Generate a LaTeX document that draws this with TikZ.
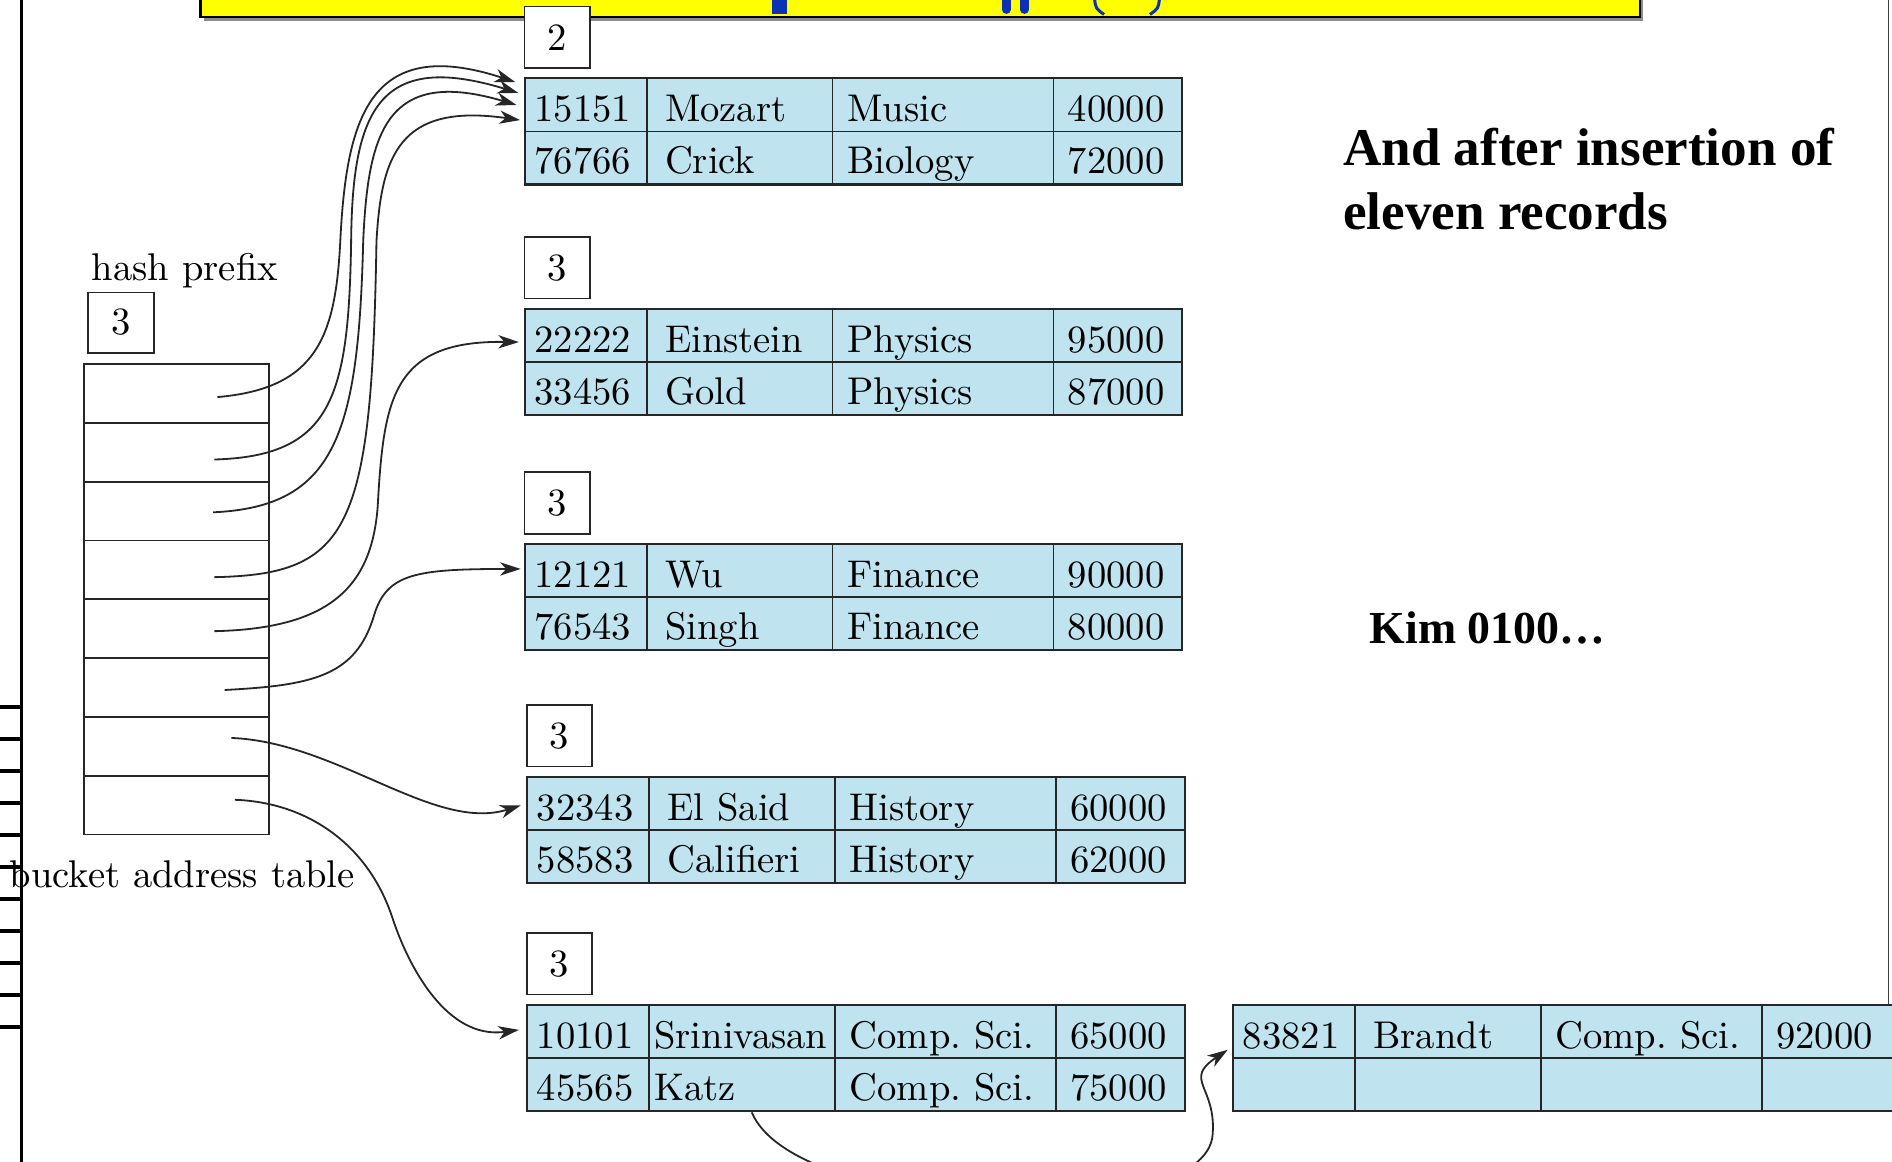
\documentclass[tikz,border=0pt]{standalone}
\usepackage{fontspec}
\newfontfamily\notefont{Liberation Serif}
\newfontfamily\figfont{lmroman10-regular}[Extension=.otf]
\usetikzlibrary{arrows.meta,positioning}
\definecolor{cellblue}{HTML}{BFE3EF}
\definecolor{slideyellow}{HTML}{FFFF00}
\definecolor{slideblue}{HTML}{0B32B5}
\newcommand{\tablefont}{\figfont\fontsize{32}{38}\selectfont}

% bucket frame: rules between the two records and the four fields
\newcommand{\bucket}[3][]{%
  \node[recbox,#1] (#2) at (#3) {};
  \draw[cellrule] (#2.west) -- (#2.east);
  \foreach \dx in {102,256,439}
    \draw[cellrule] ([xshift=\dx pt]#2.north west) -- ([xshift=\dx pt]#2.south west);
}
% one record: [name indent] bucket, baseline depth, ID, name, dept, salary
\newcommand{\record}[7][117]{%
  \node[field, anchor=base] (#2-#4) at ([xshift=49pt,yshift=-#3 pt]#2.north west) {#4};
  \node[field, anchor=base west] (#2-#4-n) at ([xshift=#1 pt,yshift=-#3 pt]#2.north west) {#5};
  \node[field, anchor=base west] (#2-#4-d) at ([xshift=268pt,yshift=-#3 pt]#2.north west) {#6};
  \node[field, anchor=base] (#2-#4-s) at ([xshift=491pt,yshift=-#3 pt]#2.north west) {#7};
}

\begin{document}
\begin{tikzpicture}[
    x=1pt, y=-1pt,
    >=Stealth,
    recbox/.style={draw=black!85, line width=1.8pt, fill=cellblue, anchor=north west,
                   minimum width=545pt, minimum height=88pt, inner sep=0pt},
    cellrule/.style={draw=black!85, line width=1.4pt},
    depthbox/.style={draw=black!85, line width=1.4pt, fill=white, minimum width=54pt,
                     minimum height=51pt, inner sep=0pt, font=\tablefont},
    slotbox/.style={draw=black!85, line width=1.4pt, anchor=north west,
                    minimum width=153pt, minimum height=48.75pt, inner sep=0pt},
    field/.style={font=\tablefont, inner sep=0pt},
    note/.style={font=\notefont\bfseries\fontsize{44}{53}\selectfont, inner sep=0pt, anchor=base west},
    ptr/.style={-{Stealth[length=17pt, width=11pt, inset=5pt]}, line width=1.5pt, black!85},
]
\useasboundingbox (0,0) rectangle (1568,963);
\clip (0,0) rectangle (1568,963);

% slide title bar, cut off at the top
\fill[black!45] (169,-20) rectangle (1362,17);
\filldraw[fill=slideyellow, draw=black, line width=2.2pt] (166,-20) rectangle (1359,14);
\fill[slideblue] (640,0) rectangle (652,12);
\draw[slideblue, line width=7pt, line cap=round] (834,-4) -- (834,8) (849,-4) -- (849,8);
\draw[slideblue, line width=2.5pt] (907,-2) .. controls (908,7) .. (915,12)
                                   (961,-2) .. controls (960,7) .. (953,12);

% slide margins
\draw[line width=2.5pt] (17.5,0) -- (17.5,963);
\foreach \k in {0,...,10}
  \draw[line width=3.5pt] (0,{586+26.5*\k}) -- (17.5,{586+26.5*\k});
\draw[black!75, line width=1.5pt] (1565,0) -- (1565,832);

% ---- bucket address table ----
\foreach \i in {1,...,8}
  \node[slotbox] (slot\i) at (69,{301+(\i-1)*48.75}) {};
\node[depthbox, minimum width=55pt, minimum height=50pt,
      above right=8pt and 3pt of slot1.north west] (prefix) {3};
\node[field, anchor=base west] (prefix-label) at ([xshift=4pt,yshift=9pt]prefix.north west) {hash prefix};
\node[field, anchor=base west] (table-label) at ([xshift=-61pt,yshift=-43pt]slot8.south west) {bucket address table};

% ---- buckets ----
\bucket{bA}{434,64}
\bucket{bB}{434,255}
\bucket{bC}{434,450}
\bucket{bD}{436,643}
\bucket{bE}{436,832}
\bucket[minimum width=570pt]{bF}{1021,832}

\node[depthbox, above right=7pt and 0pt of bA.north west] (bA-depth) {2};
\foreach \b in {bB,bC,bD,bE}
  \node[depthbox, above right=7pt and 0pt of \b.north west] (\b-depth) {3};

\record{bA}{37}{15151}{Mozart}{Music}{40000}
\record{bA}{80}{76766}{Crick}{Biology}{72000}
\record{bB}{37}{22222}{Einstein}{Physics}{95000}
\record{bB}{80}{33456}{Gold}{Physics}{87000}
\record{bC}{37}{12121}{Wu}{Finance}{90000}
\record{bC}{80}{76543}{Singh}{Finance}{80000}
\record{bD}{37}{32343}{El Said}{History}{60000}
\record{bD}{80}{58583}{Califieri}{History}{62000}
\record[106]{bE}{37}{10101}{Srinivasan}{Comp.\ Sci.}{65000}
\record[106]{bE}{80}{45565}{Katz}{Comp.\ Sci.}{75000}
\record{bF}{37}{83821}{Brandt}{Comp.\ Sci.}{92000}

% ---- pointers from the directory ----
\draw[ptr] ([xshift=34pt,yshift=-3pt]slot1.center)
  .. controls (262,322) and (278,280) .. (282,200)
  .. controls (287,100) and (305,28) .. ([xshift=-7pt,yshift=-4pt]bA.north west);
\draw[ptr] ([xshift=31.5pt,yshift=-6pt]slot2.center)
  .. controls (275,378) and (289,330) .. (291,200)
  .. controls (292,90) and (315,42) .. ([xshift=-4.5pt,yshift=-13pt]bA.north west);
\draw[ptr] ([xshift=30.5pt,yshift=-1pt]slot3.center)
  .. controls (278,420) and (297,360) .. (301,200)
  .. controls (305,110) and (320,55) .. ([xshift=-6pt,yshift=-23pt]bA.north west);
\draw[ptr] ([xshift=31.5pt,yshift=-6pt]slot4.center)
  .. controls (290,476) and (308,440) .. (312,200)
  .. controls (316,130) and (330,85) .. ([xshift=-3pt,yshift=-35.5pt]bA.north west);
\draw[ptr] ([xshift=31.5pt,yshift=-2pt]slot5.center)
  .. controls (275,521) and (308,485) .. (313,420)
  .. controls (318,330) and (325,282) .. ([xshift=-4pt,yshift=-28.5pt]bB.north west);
\draw[ptr] ([xshift=40pt,yshift=-2pt]slot6.center)
  .. controls (260,568) and (295,560) .. (310,510)
  .. controls (320.5,475) and (345,471.6) .. ([xshift=-2.5pt,yshift=-21.5pt]bC.north west);
\draw[ptr] ([xshift=45.5pt,yshift=7pt]slot7.center)
  .. controls (280,615) and (360,690) .. ([xshift=-4.5pt,yshift=-24.5pt]bD.north west);
\draw[ptr] ([xshift=48.5pt,yshift=4.5pt]slot8.center)
  .. controls (255,665) and (305,700) .. (325,760)
  .. controls (338,800) and (370,862) .. ([xshift=-6pt,yshift=-21.5pt]bE.north west);

% overflow chain, running below the slide edge
\draw[ptr] ([xshift=187pt]bE.south west)
  .. controls (660,1010) and (1000,1020) .. (1005,940)
  .. controls (1008,900) and (980,895) .. ([xshift=-3.5pt,yshift=-38pt]bF.north west);

% ---- slide text ----
\node[note] (note-a) at (1113,137) {And after insertion of};
\node[note] (note-b) at (1113,190) {eleven records};
\node[note, font=\notefont\bfseries\fontsize{38}{46}\selectfont] (kim) at (1135,533) {Kim 0100…};
\end{tikzpicture}
\end{document}
